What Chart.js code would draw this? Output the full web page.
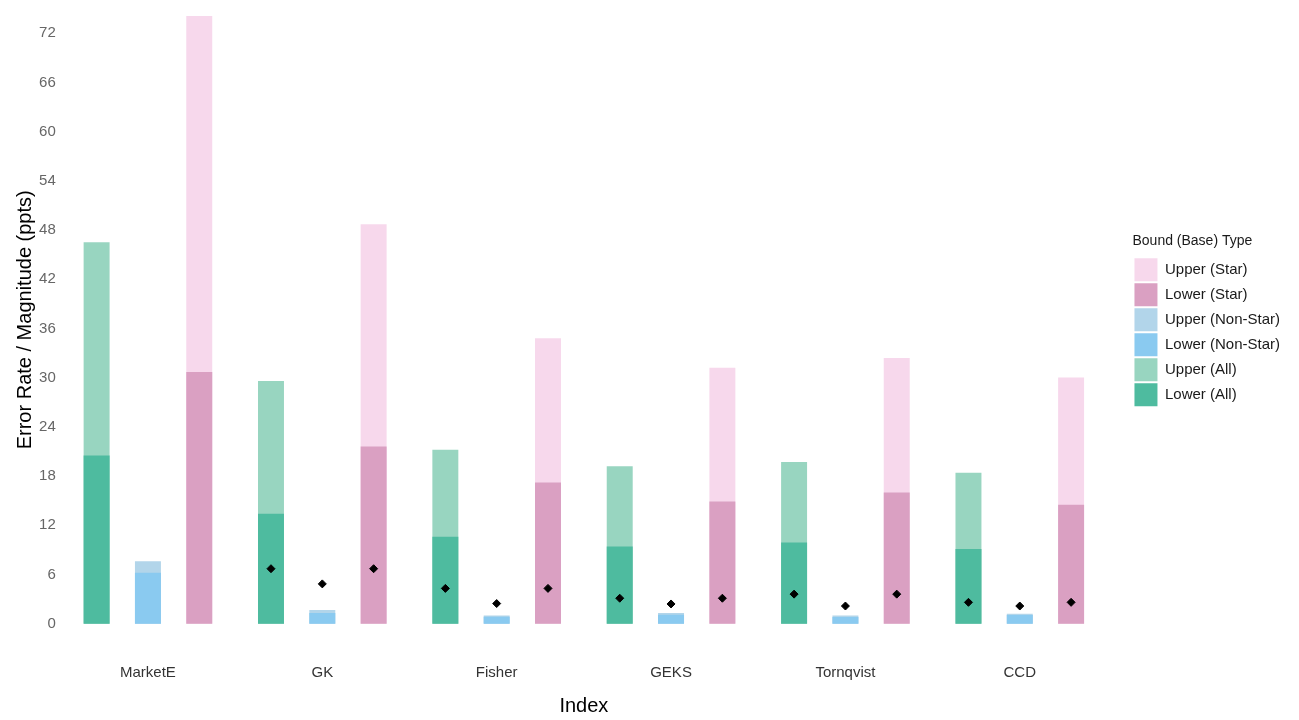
<!DOCTYPE html>
<html>
<head>
<meta charset="utf-8">
<script src="https://cdn.jsdelivr.net/npm/chart.js@4.4.1/dist/chart.umd.min.js"></script>
<style>
  html, body { margin: 0; padding: 0; background: #ffffff; }
  #wrap { width: 1299px; height: 720px; position: relative; }
</style>
</head>
<body>
<div id="wrap"><canvas id="c" width="1299" height="720"></canvas></div>
<script>
// ---- data ----
const categories = ['MarketE', 'GK', 'Fisher', 'GEKS', 'Tornqvist', 'CCD'];

const upperStar    = [74.1, 48.7, 34.8, 31.2, 32.4, 30.0];
const lowerStar    = [30.7, 21.6, 17.2, 14.9, 16.0, 14.5];
const upperNonStar = [7.6, 1.65, 1.0, 1.3, 1.0, 1.2];
const lowerNonStar = [6.2, 1.3, 0.85, 1.1, 0.8, 1.05];
const upperAll     = [46.5, 29.6, 21.2, 19.2, 19.7, 18.4];
const lowerAll     = [20.5, 13.4, 10.6, 9.4, 9.9, 9.1];

// point estimates (diamonds); MarketE has none
const pointAllStar = [null, 6.7, 4.3, 3.1, 3.6, 2.6];
const pointNonStar = [null, 4.85, 2.45, 2.4, 2.15, 2.15];

const yTicks = [0, 6, 12, 18, 24, 30, 36, 42, 48, 54, 60, 66, 72];
const yMin = -3.7, yMax = 77.8;

const legendTitle = 'Bound (Base) Type';
const xTitle = 'Index';
const yTitle = 'Error Rate / Magnitude (ppts)';

// ---- styling ----
const C = {
  upperStar: '#F7D8EC', lowerStar: '#DAA0C2',
  upperNon: '#B2D5EA', lowerNon: '#8ACAF0',
  upperAll: '#98D5C0', lowerAll: '#4EBB9F'
};
const FONT = "'Liberation Sans', Arial, sans-serif";
const catPct = 0.883;
const barPct = 0.506;
const stackOrder = ['All', 'NonStar', 'Star'];
const panelTop = -14.4;   // the plotting panel starts just above the canvas edge

// diamonds sit at the centre of their stack (category index units)
const stackShift = s => (stackOrder.indexOf(s) - 1) * catPct / stackOrder.length;
const diamondPts = [];
categories.forEach((c, i) => {
  if (pointAllStar[i] !== null) {
    diamondPts.push({x: i + stackShift('All'), y: pointAllStar[i]});
    diamondPts.push({x: i + stackShift('Star'), y: pointAllStar[i]});
  }
  if (pointNonStar[i] !== null) {
    diamondPts.push({x: i + stackShift('NonStar'), y: pointNonStar[i]});
  }
});

function bar(label, data, color, stack, order) {
  return {
    type: 'bar', label, data, stack, order,
    backgroundColor: color, borderWidth: 0,
    categoryPercentage: catPct, barPercentage: barPct
  };
}

// lower bars are drawn over the upper ones (same stack slot, both from 0)
const datasets = [
  bar('Upper (Star)', upperStar, C.upperStar, 'Star', 6),
  bar('Lower (Star)', lowerStar, C.lowerStar, 'Star', 3),
  bar('Upper (Non-Star)', upperNonStar, C.upperNon, 'NonStar', 5),
  bar('Lower (Non-Star)', lowerNonStar, C.lowerNon, 'NonStar', 2),
  bar('Upper (All)', upperAll, C.upperAll, 'All', 4),
  bar('Lower (All)', lowerAll, C.lowerAll, 'All', 1),
  {
    type: 'scatter', label: 'point', data: diamondPts, order: 0, parsing: false,
    pointStyle: 'rectRot', pointRadius: 4, pointBorderWidth: 1,
    backgroundColor: '#000000', borderColor: '#000000', showLine: false
  }
];

const noPad = s => { s.paddingTop = -60; s.paddingBottom = -60; };

const panelPlugin = {
  id: 'panelTop',
  afterLayout(chart) {
    const area = chart.chartArea;
    area.top = panelTop;
    area.height = area.bottom - panelTop;
    const y = chart.scales.y;
    y.top = panelTop;
    y.height = y.bottom - panelTop;
    y.configure();
  }
};

new Chart(document.getElementById('c'), {
  type: 'bar',
  data: { labels: categories, datasets },
  plugins: [panelPlugin],
  options: {
    responsive: false,
    animation: false,
    layout: { padding: { top: panelTop, left: 0, right: 9, bottom: 0 } },
    plugins: {
      tooltip: { enabled: false },
      legend: {
        position: 'right',
        align: 'start',
        labels: {
          boxWidth: 23, boxHeight: 23, padding: 2,
          color: '#1a1a1a',
          font: { family: FONT, size: 15 },
          filter: item => item.datasetIndex < 6,
          sort: (a, b) => a.datasetIndex - b.datasetIndex
        },
        title: {
          display: true, text: legendTitle, position: 'start',
          color: '#1a1a1a',
          font: { family: FONT, size: 14 },
          padding: { top: 248.4, bottom: 5.5 }
        }
      }
    },
    scales: {
      x: {
        type: 'category',
        stacked: true,
        offset: true,
        bounds: 'ticks',
        grid: { display: false, drawTicks: false },
        border: { display: false },
        ticks: { color: '#333333', font: { family: FONT, size: 15 }, padding: 10 },
        title: {
          display: true, text: xTitle, color: '#000000',
          font: { family: FONT, size: 20 }, padding: { top: 4, bottom: 2 }
        },
        afterFit: s => { s.height = 66; s.paddingLeft = 0; s.paddingRight = 0; noPad(s); }
      },
      y: {
        type: 'linear',
        stacked: false,
        min: yMin, max: yMax,
        grid: { display: false, drawTicks: false },
        border: { display: false },
        afterBuildTicks: s => { s.ticks = yTicks.map(v => ({ value: v })); },
        ticks: { color: '#666666', font: { family: FONT, size: 15 }, padding: 5 },
        title: {
          display: true, text: yTitle, color: '#000000',
          font: { family: FONT, size: 20 }, padding: { top: 13.5, bottom: 0 }
        },
        afterFit: s => { s.width = 60.75; noPad(s); }
      },
      gap: {
        type: 'linear', position: 'right', display: true,
        grid: { display: false, drawTicks: false },
        border: { display: false },
        ticks: { display: false },
        afterFit: s => { s.width = 25.5; noPad(s); }
      }
    }
  }
});
</script>
</body>
</html>
